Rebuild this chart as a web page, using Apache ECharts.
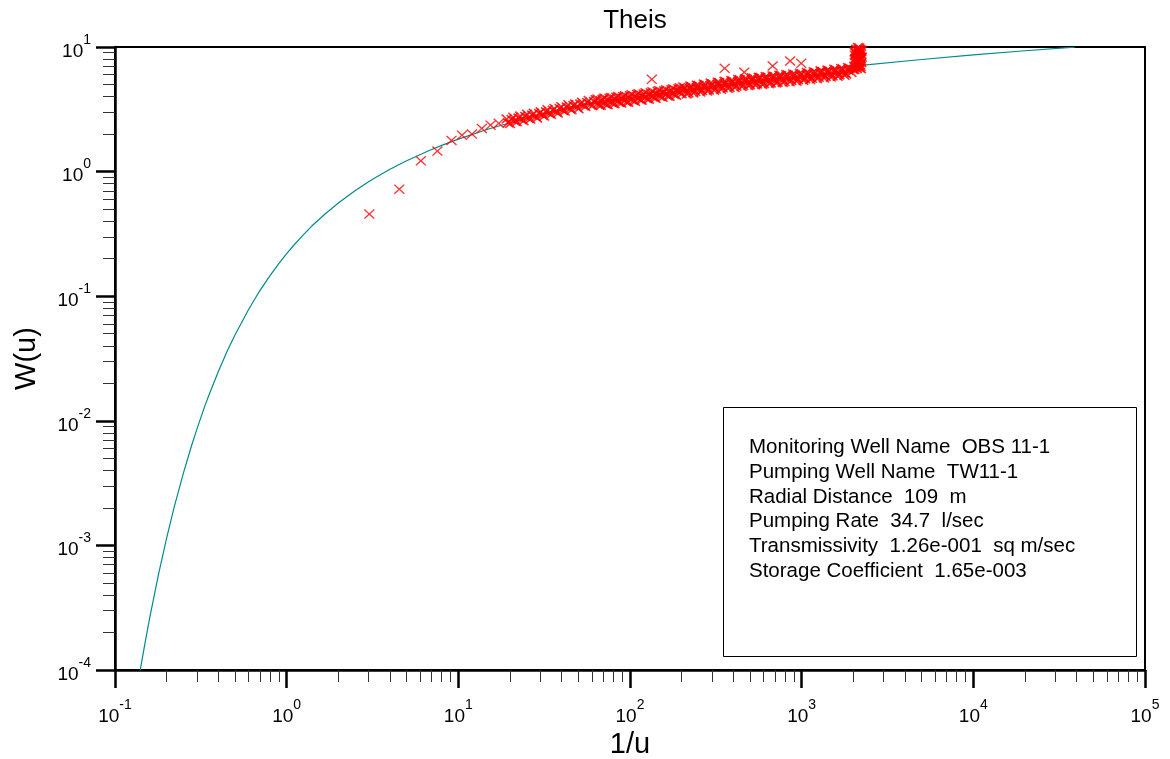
<!DOCTYPE html>
<html>
<head>
<meta charset="utf-8">
<script src="https://cdn.jsdelivr.net/npm/echarts@6/dist/echarts.min.js"></script>
<style>
  html, body { margin: 0; padding: 0; background: #fff; }
  #chart { width: 1170px; height: 759px; }
</style>
</head>
<body>
<div id="chart"></div>
<script>
// Theis type curve, W(u) against 1/u
const theisInv = [0.14, 0.15, 0.16, 0.18, 0.2, 0.22, 0.25, 0.28, 0.3, 0.333, 0.35, 0.4, 0.45, 0.5, 0.6, 0.667, 0.7, 0.8, 0.9,
  1, 1.1, 1.25, 1.4, 1.667, 2, 2.5, 3, 3.333, 4, 5, 6.667, 8, 10, 15, 20, 30, 50, 100, 200, 500, 1000, 2000, 5000, 10000, 20000, 39000];
const theisW = [0.0000983, 0.000168, 0.000271, 0.000601, 0.00115, 0.00197, 0.00378, 0.00639, 0.00858, 0.01305, 0.01566, 0.0249, 0.0361, 0.0489, 0.0783, 0.1, 0.1113, 0.1464, 0.1827,
  0.2194, 0.2564, 0.3106, 0.3655, 0.4544, 0.5598, 0.7024, 0.8295, 0.9057, 1.0443, 1.2227, 1.4645, 1.6234, 1.8229, 2.1965, 2.4679, 2.857, 3.3547, 4.0379, 4.7261, 5.6394, 6.3315, 7.0242, 7.9402, 8.6332, 9.3263, 9.994];

// observed points (x markers)
const earlyInv = [3.03, 4.53, 6.05, 7.55, 9.12, 10.5, 12.0, 13.7, 15.4, 17.2];
const earlyW = [0.456, 0.723, 1.22, 1.46, 1.78, 1.96, 2.00, 2.22, 2.36, 2.44];

const bandInv = [19.1, 20.0, 20.9, 21.9, 22.9, 24.0, 25.1, 26.3, 27.5, 28.8, 30.2, 31.6, 33.1, 34.7, 36.3, 38.0, 39.8, 41.7, 43.7, 45.7,
  47.9, 50.1, 52.5, 55.0, 57.5, 60.3, 63.1, 66.1, 69.2, 72.4, 75.9, 79.4, 83.2, 87.1, 91.2, 95.5, 100, 105, 110, 115,
  120, 126, 132, 138, 145, 151, 158, 166, 174, 182, 191, 200, 209, 219, 229, 240, 251, 263, 275, 288,
  302, 316, 331, 347, 363, 380, 398, 417, 437, 457, 479, 501, 525, 550, 575, 603, 631, 661, 692, 724,
  759, 794, 832, 871, 912, 955, 1000, 1047, 1096, 1148, 1202, 1259, 1318, 1380, 1445, 1514, 1585, 1660, 1738, 1820, 1905, 1950, 2000];
const bandW = [2.64, 2.43, 2.73, 2.51, 2.79, 2.56, 2.89, 2.64, 2.94, 2.69, 3.02, 2.79, 3.14, 2.88, 3.21, 2.95, 3.32, 3.06, 3.44, 3.13,
  3.49, 3.20, 3.61, 3.33, 3.72, 3.39, 3.78, 3.43, 3.81, 3.48, 3.88, 3.55, 3.96, 3.60, 3.99, 3.62, 4.06, 3.72, 4.16, 3.78,
  4.20, 3.84, 4.30, 3.93, 4.41, 4.01, 4.45, 4.05, 4.54, 4.16, 4.63, 4.22, 4.69, 4.28, 4.80, 4.39, 4.90, 4.47, 4.97, 4.52,
  5.04, 4.60, 5.18, 4.70, 5.22, 4.74, 5.32, 4.85, 5.46, 4.90, 5.52, 4.97, 5.61, 5.05, 5.70, 5.09, 5.74, 5.14, 5.82, 5.22,
  5.90, 5.28, 5.94, 5.38, 5.98, 5.46, 6.07, 5.55, 6.15, 5.61, 6.22, 5.71, 6.35, 5.81, 6.43, 5.87, 6.52, 5.97, 6.64, 6.08, 6.73, 6.25, 6.60];

// the same band, points in between
const band2Inv = [19.5, 20.4, 21.4, 22.4, 23.4, 24.5, 25.7, 26.9, 28.2, 29.5, 30.9, 32.4, 33.9, 35.5, 37.2, 38.9, 40.7, 42.7, 44.7, 46.8,
  49.0, 51.3, 53.7, 56.2, 58.9, 61.7, 64.6, 67.6, 70.8, 74.1, 77.6, 81.3, 85.1, 89.1, 93.3, 97.7, 102, 107, 112, 117,
  123, 129, 135, 141, 148, 155, 162, 170, 178, 186, 195, 204, 214, 224, 234, 245, 257, 269, 282, 295,
  309, 324, 339, 355, 372, 389, 407, 427, 447, 468, 490, 513, 537, 562, 589, 617, 646, 676, 708, 741,
  776, 813, 851, 891, 933, 977, 1023, 1072, 1122, 1175, 1230, 1288, 1349, 1413, 1479, 1549, 1622, 1698, 1778, 1862];
const band2W = [2.47, 2.62, 2.54, 2.69, 2.61, 2.77, 2.68, 2.84, 2.75, 2.93, 2.84, 3.02, 2.92, 3.11, 3.01, 3.21, 3.10, 3.30, 3.19, 3.39,
  3.28, 3.48, 3.38, 3.59, 3.47, 3.65, 3.51, 3.71, 3.56, 3.76, 3.61, 3.82, 3.67, 3.87, 3.72, 3.94, 3.79, 4.01, 3.86, 4.08,
  3.94, 4.16, 4.01, 4.24, 4.08, 4.32, 4.16, 4.40, 4.24, 4.48, 4.32, 4.56, 4.40, 4.65, 4.48, 4.72, 4.55, 4.81, 4.63, 4.90,
  4.71, 4.98, 4.79, 5.06, 4.88, 5.14, 4.95, 5.24, 5.05, 5.32, 5.13, 5.41, 5.19, 5.47, 5.25, 5.53, 5.32, 5.60, 5.38, 5.66,
  5.45, 5.74, 5.51, 5.81, 5.57, 5.88, 5.65, 5.97, 5.74, 6.05, 5.83, 6.15, 5.92, 6.24, 6.01, 6.34, 6.10, 6.43, 6.19, 6.53];

// outer edges of the band where it is solid (1/u > 60)
const band3Inv = [64.6, 67.6, 70.8, 74.1, 77.6, 81.3, 85.1, 89.1, 93.3, 97.7, 102, 107, 112, 117, 123, 129, 135, 141, 148, 155,
  162, 170, 178, 186, 195,
  204, 214, 224, 234, 245, 257, 269, 282, 295, 309, 324, 339, 355, 372, 389, 407, 427, 447, 468, 490,
  513, 537, 562, 589, 617, 646, 676, 708, 741, 776, 813, 851, 891, 933, 977, 1023, 1072, 1122, 1175, 1230,
  1288, 1349, 1413, 1479, 1549, 1622, 1698, 1778, 1862];
const band3W = [3.83, 3.40, 3.89, 3.44, 3.94, 3.50, 4.01, 3.55, 4.06, 3.61, 4.14, 3.67, 4.22, 3.74, 4.30, 3.81, 4.38, 3.88, 4.46, 3.95,
  4.54, 4.03, 4.62, 4.10, 4.71,
  4.78, 4.20, 4.86, 4.28, 4.94, 4.35, 5.04, 4.43, 5.13, 4.50, 5.21, 4.57, 5.30, 4.66, 5.38, 4.73, 5.48, 4.82, 5.57, 4.90,
  5.66, 4.95, 5.73, 5.01, 5.79, 5.08, 5.86, 5.14, 5.93, 5.20, 6.01, 5.26, 6.08, 5.32, 6.15, 5.40, 6.25, 5.48, 6.34, 5.57,
  6.44, 5.65, 6.53, 5.74, 6.64, 5.82, 6.73, 5.92, 6.84];

const lateInv = [2030, 2060, 2090, 2120, 2150, 2180, 2200, 2170, 2140, 2100, 2070, 2050, 2110, 2190, 2210, 2160, 2080, 2130, 2060, 2040,
  2220, 2230, 2180, 2230, 2025, 2045, 2065, 2085, 2105, 2125, 2145, 2165, 2185, 2205, 2225, 2240, 2035, 2095, 2155, 2215];
const lateW = [6.6, 6.9, 7.3, 7.8, 8.4, 9.0, 9.5, 9.8, 9.3, 8.7, 8.1, 7.5, 6.9, 7.2, 8.0, 7.6, 9.6, 9.9, 9.2, 8.6,
  8.8, 7.5, 6.8, 9.4, 7.0, 8.0, 8.9, 7.7, 9.4, 8.3, 7.1, 8.9, 8.2, 7.0, 9.2, 8.3, 9.1, 6.7, 9.6, 6.7];

const outlierInv = [134, 356, 463, 678, 857, 994];
const outlierW = [5.50, 6.74, 6.27, 7.04, 7.72, 7.40];

// axis furniture
const decadesX = [0.1, 1, 10, 100, 1000, 10000, 100000];
const decadesY = [0.0001, 0.001, 0.01, 0.1, 1, 10];
const minorSteps = [2, 3, 4, 5, 6, 7, 8, 9];

const infoLines = [
  'Monitoring Well Name  OBS 11-1',
  'Pumping Well Name  TW11-1',
  'Radial Distance  109  m',
  'Pumping Rate  34.7  l/sec',
  'Transmissivity  1.26e-001  sq m/sec',
  'Storage Coefficient  1.65e-003'
];

const FONT = '"Liberation Sans", Arial, sans-serif';
const XMARK = 'path://M0,0.9L0.9,0L5,4.1L9.1,0L10,0.9L5.9,5L10,9.1L9.1,10L5,5.9L0.9,10L0,9.1L4.1,5Z';
const XMARK_DENSE = 'path://M0,1.1L1.1,0L5,3.9L8.9,0L10,1.1L6.1,5L10,8.9L8.9,10L5,6.1L1.1,10L0,8.9L3.9,5Z';

function minorOf(decades) {
  const out = [];
  decades.slice(0, -1).forEach(d => minorSteps.forEach(m => out.push(d * m)));
  return out;
}
function pairs(xs, ys) {
  return xs.map((x, i) => [x, ys[i]]);
}
function powLabel(v) {
  const e = Math.round(Math.log10(v));
  return '{b|10}{e|' + e + '}';
}
const richLabel = {
  b: { fontSize: 19, fontFamily: FONT, color: '#000', lineHeight: 28, verticalAlign: 'bottom' },
  e: { fontSize: 14, fontFamily: FONT, color: '#000', lineHeight: 14, verticalAlign: 'top' }
};

const chart = echarts.init(document.getElementById('chart'));

const markerSeries = (name, xs, ys, sym) => ({
  name: name,
  type: 'scatter',
  data: pairs(xs, ys),
  symbol: sym || XMARK,
  symbolSize: [11, 10],
  itemStyle: { color: '#ff0000' },
  z: 3
});

chart.setOption({
  animation: false,
  backgroundColor: '#fff',
  title: {
    text: 'Theis',
    left: 630,
    top: 3,
    textAlign: 'center',
    textStyle: { fontFamily: FONT, fontSize: 26, fontWeight: 'normal', color: '#000' }
  },
  grid: {
    left: 115, right: 25, top: 47, bottom: 89,
    outerBoundsMode: 'none',
    containLabel: false,
    show: true, borderColor: '#000', borderWidth: 2, backgroundColor: 'transparent'
  },
  xAxis: [
    {
      type: 'log', logBase: 10, min: 0.1, max: 100000,
      name: '1/u', nameLocation: 'middle', nameGap: 60,
      nameTextStyle: { fontFamily: FONT, fontSize: 29, color: '#000' },
      axisLine: { show: true, lineStyle: { color: '#000', width: 2.5 } },
      axisTick: { show: true, inside: false, length: 18, lineStyle: { color: '#000', width: 2.5 }, customValues: decadesX },
      axisLabel: { margin: 28, formatter: powLabel, rich: richLabel, customValues: decadesX },
      splitLine: { show: false }
    },
    {
      type: 'log', logBase: 10, min: 0.1, max: 100000, position: 'bottom',
      axisLine: { show: false },
      axisTick: { show: true, length: 12, lineStyle: { color: '#333', width: 1 }, customValues: minorOf(decadesX) },
      axisLabel: { show: false },
      splitLine: { show: false }
    }
  ],
  yAxis: [
    {
      type: 'log', logBase: 10, min: 0.0001, max: 10,
      name: 'W(u)', nameLocation: 'middle', nameGap: 74, nameRotate: 90,
      nameTextStyle: { fontFamily: FONT, fontSize: 29, color: '#000' },
      axisLine: { show: true, lineStyle: { color: '#000', width: 2.5 } },
      axisTick: { show: true, inside: false, length: 19, lineStyle: { color: '#000', width: 2.5 }, customValues: decadesY },
      axisLabel: { margin: 24, formatter: powLabel, rich: richLabel, customValues: decadesY },
      splitLine: { show: false }
    },
    {
      type: 'log', logBase: 10, min: 0.0001, max: 10, position: 'left',
      axisLine: { show: false },
      axisTick: { show: true, length: 12, lineStyle: { color: '#333', width: 1 }, customValues: minorOf(decadesY) },
      axisLabel: { show: false },
      splitLine: { show: false }
    }
  ],
  series: [
    {
      name: 'Theis',
      type: 'line',
      data: pairs(theisInv, theisW),
      smooth: false,
      showSymbol: false,
      clip: true,
      lineStyle: { color: '#008b8b', width: 1.2 },
      z: 2
    },
    markerSeries('early', earlyInv, earlyW),
    markerSeries('band', bandInv, bandW, XMARK_DENSE),
    markerSeries('band2', band2Inv, band2W, XMARK_DENSE),
    markerSeries('band3', band3Inv, band3W, XMARK_DENSE),
    markerSeries('late', lateInv, lateW, XMARK_DENSE),
    markerSeries('outliers', outlierInv, outlierW)
  ],
  graphic: [
    {
      type: 'rect',
      shape: { x: 723.5, y: 407.5, width: 413, height: 249 },
      style: { fill: '#fff', stroke: '#000', lineWidth: 1 },
      z: 10
    },
    {
      type: 'text',
      x: 749, y: 435,
      style: {
        text: infoLines.join('\n'),
        font: '20.5px ' + FONT,
        lineHeight: 24.8,
        fill: '#000'
      },
      z: 11
    }
  ]
});
</script>
</body>
</html>
